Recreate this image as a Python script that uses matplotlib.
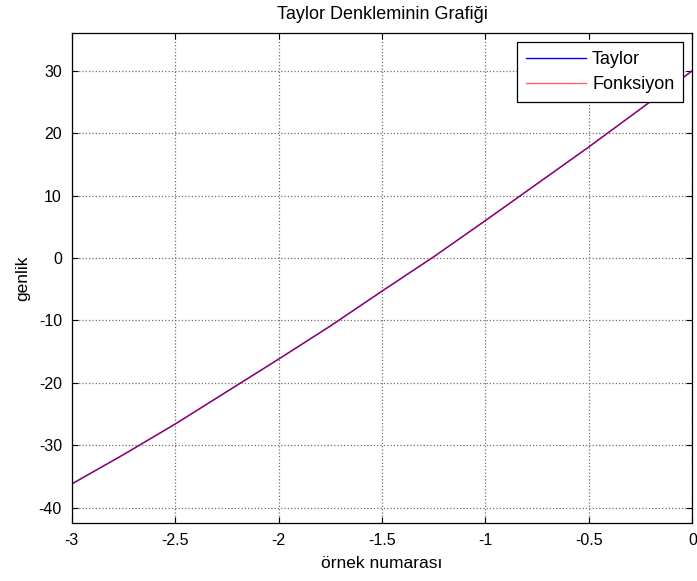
import matplotlib
matplotlib.use("Agg")
import matplotlib.pyplot as plt

plt.rcParams['font.family'] = ['Liberation Sans', 'DejaVu Sans']
plt.rcParams['axes.unicode_minus'] = False

# sample points and the two curves evaluated on them
x = [-3.0, -2.75, -2.5, -2.25, -2.0, -1.75, -1.5, -1.25, -1.0, -0.75, -0.5, -0.25, 0.0]
taylor_y = [-36.2, -31.5, -26.6, -21.4, -16.2, -10.9, -5.3, 0.2, 6.0, 11.9, 17.8, 23.9, 30.0]
fonksiyon_y = [-36.2, -31.5, -26.6, -21.4, -16.2, -10.9, -5.3, 0.2, 6.0, 11.9, 17.8, 23.9, 30.0]

fig = plt.figure(figsize=(6.97, 5.81), dpi=100)
ax = fig.add_axes([0.1029, 0.0993, 0.8904, 0.8434])

ax.plot(x, taylor_y, color='#0000ff', linewidth=1.0, label='Taylor')
ax.plot(x, fonksiyon_y, color='#ff0000', linewidth=1.0, alpha=0.6, label='Fonksiyon')

ax.set_xlim(-3, 0)
ax.set_ylim(-42.5, 36.0)
ax.set_xticks([-3, -2.5, -2, -1.5, -1, -0.5, 0])
ax.set_xticklabels(['-3', '-2.5', '-2', '-1.5', '-1', '-0.5', '0'])
ax.set_yticks([-40, -30, -20, -10, 0, 10, 20, 30])

ax.grid(True, linestyle=':', color='#707070', linewidth=0.9)
ax.tick_params(direction='in', top=True, right=True, length=4, labelsize=11.5, pad=7)
for s in ax.spines.values():
    s.set_linewidth(0.9)

ax.set_title('Taylor Denkleminin Grafiği', fontsize=13, pad=10)
ax.set_xlabel('örnek numarası', fontsize=12.5, labelpad=6)
ax.set_ylabel('genlik', fontsize=12.5, labelpad=6)

leg = ax.legend(loc='upper right', fontsize=13, handlelength=3.3, handletextpad=0.35,
                fancybox=False, framealpha=1, edgecolor='black', borderaxespad=0.5,
                borderpad=0.5, labelspacing=0.45)
leg.get_frame().set_linewidth(0.9)

fig.savefig('out.png', dpi=100)
